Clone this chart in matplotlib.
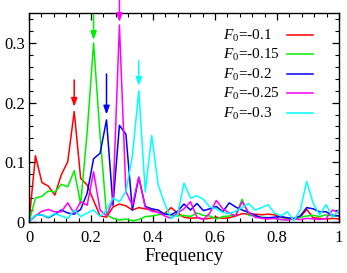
import numpy as np
import matplotlib
matplotlib.use("Agg")
import matplotlib.pyplot as plt
from matplotlib.lines import Line2D

plt.rcParams['font.family'] = 'Liberation Serif'
plt.rcParams['mathtext.fontset'] = 'custom'
plt.rcParams['mathtext.rm'] = 'Liberation Serif'
plt.rcParams['mathtext.it'] = 'Liberation Serif:italic'

# frequency grid, step 1/48
freq = np.arange(49) / 48.0

red = [0.0, 0.111, 0.066, 0.060, 0.045, 0.079, 0.101, 0.185, 0.073, 0.062,
       0.036, 0.010, 0.008, 0.025, 0.030, 0.027, 0.020, 0.024, 0.022, 0.020,
       0.016, 0.014, 0.024, 0.015, 0.008, 0.006, 0.007, 0.005, 0.006, 0.008,
       0.006, 0.007, 0.010, 0.014, 0.013, 0.013, 0.012, 0.013, 0.012, 0.008,
       0.006, 0.005, 0.008, 0.021, 0.007, 0.006, 0.005, 0.006, 0.005]
green = [0.0, 0.040, 0.043, 0.052, 0.050, 0.063, 0.059, 0.086, 0.030, 0.150,
         0.300, 0.145, 0.012, 0.006, 0.003, 0.005, 0.002, 0.004, 0.009, 0.010,
         0.012, 0.014, 0.012, 0.010, 0.011, 0.009, 0.015, 0.011, 0.010, 0.005,
         0.009, 0.010, 0.012, 0.038, 0.011, 0.010, 0.008, 0.007, 0.006, 0.004,
         0.005, 0.004, 0.008, 0.010, 0.011, 0.009, 0.012, 0.010, 0.011]
blue = [0.0, 0.011, 0.012, 0.007, 0.013, 0.020, 0.015, 0.013, 0.021, 0.048,
        0.106, 0.115, 0.171, 0.028, 0.162, 0.147, 0.020, 0.075, 0.026, 0.022,
        0.020, 0.013, 0.012, 0.018, 0.030, 0.020, 0.031, 0.019, 0.022, 0.026,
        0.017, 0.032, 0.025, 0.020, 0.016, 0.011, 0.007, 0.007, 0.008, 0.009,
        0.007, 0.006, 0.010, 0.024, 0.022, 0.017, 0.017, 0.011, 0.010]
magenta = [0.0, 0.010, 0.018, 0.021, 0.017, 0.017, 0.032, 0.014, 0.034, 0.028,
           0.084, 0.020, 0.010, 0.037, 0.330, 0.051, 0.028, 0.075, 0.025, 0.018,
           0.016, 0.010, 0.006, 0.015, 0.022, 0.034, 0.008, 0.004, 0.015, 0.036,
           0.022, 0.015, 0.010, 0.034, 0.016, 0.008, 0.006, 0.005, 0.006, 0.004,
           0.003, 0.005, 0.004, 0.006, 0.005, 0.004, 0.006, 0.020, 0.015]
cyan = [0.0, 0.011, 0.012, 0.008, 0.014, 0.010, 0.006, 0.020, 0.009, 0.015,
        0.020, 0.009, 0.020, 0.040, 0.034, 0.051, 0.110, 0.220, 0.050, 0.145,
        0.062, 0.031, 0.006, 0.012, 0.065, 0.040, 0.044, 0.038, 0.025, 0.022,
        0.016, 0.014, 0.018, 0.024, 0.031, 0.020, 0.024, 0.029, 0.015, 0.010,
        0.017, 0.002, 0.020, 0.068, 0.031, 0.012, 0.029, 0.008, 0.020]

labels = ["$F_0$=-0.1", "$F_0$=-0.15", "$F_0$=-0.2", "$F_0$=-0.25", "$F_0$=-0.3"]
colors = ["#ff0000", "#00ee00", "#0000ff", "#ff00ff", "#00ffff"]
series = [red, green, blue, magenta, cyan]

# arrows: (peak index, arrow start value, tip value)
arrows = [(7, 0.238, 0.193), (10, 0.347, 0.305), (12, 0.248, 0.180),
          (14, 0.372, 0.335), (17, 0.270, 0.228)]

fig = plt.figure(figsize=(3.47, 2.73), dpi=100)
ax = fig.add_axes([0.0836, 0.187, 0.8934, 0.765])

for y, c in zip(series, colors):
    ax.plot(freq, y, color=c, lw=1.1)

for (k, y0, y1), c in zip(arrows, colors):
    ax.annotate("", xy=(freq[k], y1), xytext=(freq[k], y0),
                arrowprops=dict(arrowstyle="-|>,head_length=0.5,head_width=0.18",
                                color=c, lw=1.1, shrinkA=0, shrinkB=0),
                annotation_clip=False)

# gnuplot-like key: left aligned text, sample line on the right
for i, (lab, c) in enumerate(zip(labels, colors)):
    yk = 0.897 - i * 0.0933
    ax.text(0.626, yk - 0.024, lab, transform=ax.transAxes, fontsize=11,
            ha="left", va="baseline")
    ax.add_line(Line2D([0.832, 0.916], [yk, yk], transform=ax.transAxes,
                       color=c, lw=1.1))

ax.set_xlim(0, 1)
ax.set_ylim(0, 0.35)
ax.set_xticks([0, 0.2, 0.4, 0.6, 0.8, 1])
ax.set_xticklabels(["0", "0.2", "0.4", "0.6", "0.8", "1"])
ax.set_xticks(np.arange(0, 1.001, 0.04), minor=True)
ax.set_yticks([0, 0.1, 0.2, 0.3])
ax.set_yticklabels(["0", "0.1", "0.2", "0.3"])
ax.set_yticks(np.arange(0, 0.351, 0.02), minor=True)
ax.tick_params(which="both", direction="in", top=True, right=True, labelsize=12)
ax.tick_params(which="major", length=5, width=0.9)
ax.tick_params(which="minor", length=3, width=0.8)
ax.tick_params(axis="x", pad=6)
ax.tick_params(axis="y", pad=3)
for s in ax.spines.values():
    s.set_linewidth(1.0)
ax.set_xlabel("Frequency", fontsize=13.5, labelpad=1)

fig.savefig("out.png", dpi=100)
